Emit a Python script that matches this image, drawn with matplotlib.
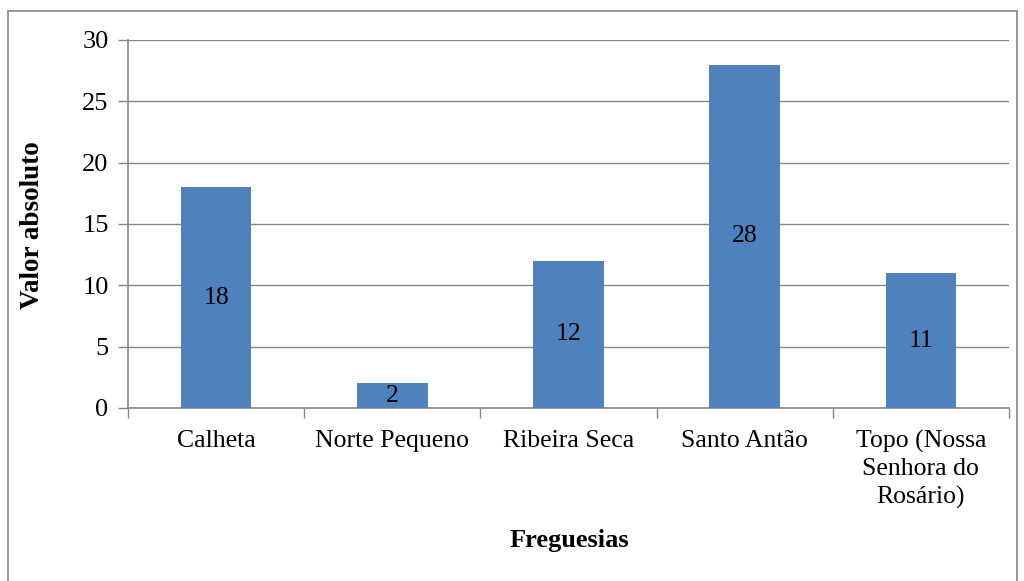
import matplotlib.pyplot as plt
from matplotlib.patches import Rectangle

plt.rcParams["font.family"] = ["Liberation Serif", "DejaVu Serif"]

freguesias = ["Calheta", "Norte Pequeno", "Ribeira Seca", "Santo Antão",
              "Topo (Nossa\nSenhora do\nRosário)"]
valores = [18, 2, 12, 28, 11]
yticks = [0, 5, 10, 15, 20, 25, 30]

bar_color = "#4F81BD"
grid_color = "#868686"

fig = plt.figure(figsize=(10.24, 5.81), dpi=100)
ax = fig.add_axes([128 / 1024, 1 - 408 / 581, (1009 - 128) / 1024, (408 - 40) / 581])

x = list(range(len(freguesias)))
bars = ax.bar(x, valores, width=0.4, color=bar_color, zorder=3)
for rect, v in zip(bars, valores):
    ax.text(rect.get_x() + rect.get_width() / 2, v / 2, str(v),
            ha="center", va="center", fontsize=18.5, zorder=4)

ax.set_xlim(-0.5, len(freguesias) - 0.5)
ax.set_ylim(0, 30)
ax.set_yticks(yticks)
ax.set_yticklabels([str(t) for t in yticks], fontsize=19)
ax.yaxis.grid(True, color=grid_color, linewidth=1)
ax.set_axisbelow(True)

ax.set_xticks([i - 0.5 for i in range(len(freguesias) + 1)])
ax.set_xticklabels([])
ax.set_xticks(x, minor=True)
ax.set_xticklabels(freguesias, minor=True, fontsize=18.5, linespacing=1.3)
ax.tick_params(axis="x", which="minor", length=0, pad=16)
ax.tick_params(axis="x", which="major", length=7, color=grid_color, width=1)
ax.tick_params(axis="y", length=7, color=grid_color, width=1, pad=7)

for side in ["top", "right"]:
    ax.spines[side].set_visible(False)
for side in ["left", "bottom"]:
    ax.spines[side].set_color(grid_color)
    ax.spines[side].set_linewidth(1.2)

fig.text(33 / 1024, 1 - 225 / 581, "Valor absoluto", rotation=90,
         ha="center", va="center", fontsize=19.5, fontweight="bold")
fig.text(569 / 1024, 1 - 540 / 581, "Freguesias",
         ha="center", va="center", fontsize=19, fontweight="bold")

fig.patches.append(Rectangle((8 / 1024, -0.01), (1017 - 8) / 1024, 1 - 11 / 581 + 0.01,
                             transform=fig.transFigure, fill=False,
                             edgecolor=grid_color, linewidth=1.2))

fig.savefig("out.png", dpi=100)
